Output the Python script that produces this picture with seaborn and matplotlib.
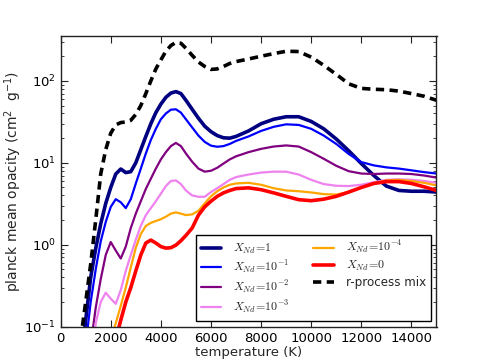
import matplotlib
matplotlib.use("Agg")
import matplotlib.pyplot as plt
from matplotlib.font_manager import FontProperties
import seaborn as sns
import numpy as np
import pandas as pd

# ---------------- data ----------------
temperature = [800, 1000, 1200, 1400, 1600, 1800, 2000, 2200, 2400, 2600,
               2800, 3000, 3200, 3400, 3600, 3800, 4000, 4200, 4400, 4600,
               4800, 5000, 5250, 5500, 5750, 6000, 6250, 6500, 6750, 7000,
               7500, 8000, 8500, 9000, 9500, 10000, 10500, 11000, 11500, 12000,
               12500, 13000, 13500, 14000, 14500, 15000]

opac_x1 = [0.03, 0.12, 0.4, 0.9, 1.8, 3.2, 5.0, 7.3, 8.4, 7.6,
           7.8, 10, 14.5, 21, 30, 41, 52, 63, 71, 74,
           70, 58, 45, 35, 28, 24, 21.5, 20.2, 20, 21,
           24.5, 30, 34, 36.5, 36.5, 32, 26, 19.5, 14, 9.8,
           7.0, 5.2, 4.6, 4.5, 4.5, 4.4]

opac_x1em1 = [0.01, 0.06, 0.2, 0.5, 1.1, 1.9, 2.9, 3.6, 3.3, 2.8,
              3.6, 5.6, 8.5, 13, 19, 26, 34, 40, 44.5, 45,
              41, 34, 27, 21.5, 18, 16.2, 15.7, 16, 17, 18.5,
              21, 24.5, 27.5, 29.5, 29, 26, 21.5, 17, 12.8, 10.2,
              9.3, 8.8, 8.5, 8.1, 7.7, 7.4]

opac_x1em2 = [0.003, 0.01, 0.06, 0.17, 0.38, 0.75, 1.08, 0.85, 0.68, 0.95,
              1.6, 2.4, 3.4, 4.8, 6.4, 8.5, 11, 13.5, 16, 17.5,
              16, 13, 10.3, 8.5, 7.8, 8.0, 8.7, 9.8, 11, 12,
              13.5, 14.8, 15.8, 16.3, 15.8, 13.5, 11.2, 9.2, 7.9, 7.4,
              7.3, 7.4, 7.4, 7.3, 7.0, 6.6]

opac_x1em3 = [0.001, 0.003, 0.02, 0.11, 0.2, 0.26, 0.22, 0.19, 0.28, 0.48,
              0.75, 1.15, 1.7, 2.3, 2.8, 3.4, 4.2, 5.2, 6.0, 6.1,
              5.5, 4.6, 4.0, 3.85, 3.85, 4.4, 4.9, 5.5, 6.2, 6.7,
              7.2, 7.6, 7.8, 7.8, 7.2, 6.2, 5.5, 5.25, 5.2, 5.4,
              5.8, 6.2, 6.3, 6.2, 6.0, 5.7]

opac_x1em4 = [0.001, 0.003, 0.006, 0.01, 0.02, 0.04, 0.07, 0.11, 0.18, 0.3,
              0.53, 0.92, 1.35, 1.7, 1.85, 1.95, 2.05, 2.2, 2.4, 2.48,
              2.4, 2.3, 2.35, 2.6, 3.2, 3.9, 4.5, 5.0, 5.4, 5.6,
              5.7, 5.4, 4.9, 4.6, 4.5, 4.35, 4.15, 4.1, 4.4, 5.0,
              5.6, 6.1, 6.2, 6.0, 5.7, 5.3]

opac_x0 = [0.001, 0.002, 0.004, 0.008, 0.015, 0.025, 0.04, 0.07, 0.12, 0.2,
           0.3, 0.48, 0.75, 1.05, 1.14, 1.05, 0.95, 0.91, 0.92, 0.99,
           1.12, 1.3, 1.6, 2.3, 2.9, 3.4, 3.9, 4.3, 4.6, 4.85,
           4.95, 4.7, 4.3, 3.9, 3.55, 3.45, 3.6, 3.9, 4.4, 5.0,
           5.6, 5.9, 5.9, 5.6, 5.1, 4.6]

opac_rproc = [0.07, 0.2, 0.58, 2.0, 7.3, 14.5, 23, 29, 31, 31.5,
              33, 39, 50, 70, 100, 140, 180, 230, 270, 295,
              288, 250, 205, 170, 150, 138, 140, 150, 163, 172,
              185, 200, 215, 230, 228, 195, 155, 120, 92, 81,
              79, 78, 75, 70, 65, 58]

series_labels = [r'$X_{Nd}\!=\!1$', r'$X_{Nd}\!=\!10^{-1}$', r'$X_{Nd}\!=\!10^{-2}$',
                 r'$X_{Nd}\!=\!10^{-3}$', r'$X_{Nd}\!=\!10^{-4}$', r'$X_{Nd}\!=\!0$',
                 'r-process mix']
xticks = [0, 2000, 4000, 6000, 8000, 10000, 12000, 14000]

# ---------------- styling ----------------
sns.set_style("ticks")
plt.rcParams['font.family'] = ['DejaVu Sans']
plt.rcParams['xtick.direction'] = 'in'
plt.rcParams['ytick.direction'] = 'in'

fig = plt.figure(figsize=(4.85, 3.63), dpi=100)
ax = fig.add_axes([0.125, 0.1, 0.775, 0.8])

all_series = [opac_x1, opac_x1em1, opac_x1em2, opac_x1em3, opac_x1em4, opac_x0, opac_rproc]
colors = ['#000080', '#0000ff', '#800080', '#ee82ee', '#ffa500', '#ff0000', '#000000']
widths = [2.6, 1.6, 1.6, 1.6, 1.6, 2.6, 2.6]

for vals, lab, col, lw in zip(all_series, series_labels, colors, widths):
    df = pd.DataFrame({'T': temperature, 'kappa': vals})
    sns.lineplot(data=df, x='T', y='kappa', ax=ax, color=col, lw=lw,
                 label=lab, estimator=None, sort=False)

ax.lines[-1].set_dashes((2.3, 1.5))
for ln in ax.lines:
    ln.set_solid_joinstyle('round')
    ln.set_dash_joinstyle('round')

ax.set_yscale('log')
ax.set_xlim(0, 15000)
ax.set_ylim(0.1, 350)
ax.set_xticks(xticks)
ax.set_xticklabels([str(t) for t in xticks])
ax.tick_params(which='both', top=True, right=True, labelsize=9.5, colors='#222222',
               labelcolor='black')
ax.tick_params(which='major', length=5, width=0.8)
ax.tick_params(which='minor', length=2.5, width=0.6)
for s in ax.spines.values():
    s.set_color('#222222')
    s.set_linewidth(1.0)

ax.set_xlabel('temperature (K)', fontsize=9.5, labelpad=1)
ax.set_ylabel(r'planck mean opacity (cm$^{2}$  g$^{-1}$)', fontsize=10, labelpad=0)

leg_prop = FontProperties(family='DejaVu Sans', size=8.6, math_fontfamily='cm')
leg = ax.legend(loc='lower right', ncol=2, prop=leg_prop, fancybox=False,
                framealpha=1, edgecolor='black', handlelength=1.7,
                handletextpad=1.0, columnspacing=2.0, labelspacing=0.25,
                borderaxespad=0.5)
leg.get_frame().set_linewidth(1.0)

fig.savefig('out.png', dpi=100, facecolor='white')
